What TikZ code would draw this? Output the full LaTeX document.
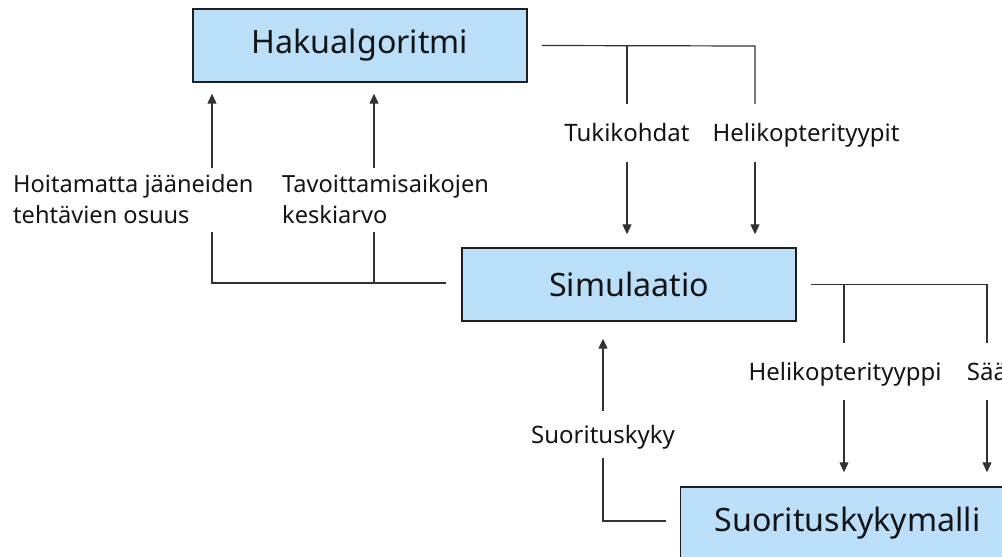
\documentclass[tikz,border=0pt]{standalone}
\usepackage{fontspec}
\setmainfont{Noto Sans}
\usetikzlibrary{arrows.meta,calc}
\definecolor{boxfill}{RGB}{187,222,249}
\definecolor{linec}{RGB}{50,50,50}
\definecolor{boxline}{RGB}{30,30,30}
\definecolor{txt}{RGB}{20,20,20}
\begin{document}
\begin{tikzpicture}[x=1pt,y=-1pt,
  blk/.style={draw=boxline, line width=1.4pt, fill=boxfill, minimum width=334pt,
    minimum height=73pt, inner sep=0pt, text=txt, font=\fontsize{32.2}{38}\selectfont},
  lbl/.style={inner sep=0pt, text=txt, text height=17pt, text depth=0pt,
    font=\fontsize{24}{31}\selectfont},
  mlbl/.style={inner sep=0pt, text=txt, align=left, anchor=base west,
    font=\fontsize{23.6}{31}\selectfont},
  conn/.style={draw=linec, line width=1.2pt},
  arr/.style={conn, -{Triangle[length=10pt,width=9pt]}}]
\useasboundingbox (0,0) rectangle (1002,557);

% blocks
\node[blk] (hak) at (360,45.5) {Hakualgoritmi};
\node[blk] (sim) at (629,284.5) {Simulaatio};
\node[blk] (suo) at (847.5,523.5) {Suorituskykymalli};

% labels
\node[lbl, minimum height=58pt] (tk) at (627,133) {Tukikohdat};
\node[lbl, minimum height=58pt] (ht) at (806,133) {Helikopterityypit};
\node[lbl, minimum height=57pt] (hp) at (845,371.5) {Helikopterityyppi};
\node[lbl, minimum height=57pt] (saa) at (987,371.5) {Sää};
\node[lbl, minimum height=47pt] (sk) at (603,434.5) {Suorituskyky};
\node[mlbl] (ho) at (13,223) {Hoitamatta jääneiden\\tehtävien osuus};
\node[mlbl] (ta) at (282,223) {Tavoittamisaikojen\\keskiarvo};

% Hakualgoritmi -> Simulaatio
\coordinate (t0) at ($(hak.east)+(14,0)$);
\coordinate (tj1) at (tk.north |- t0);
\coordinate (tj2) at (755,46);
\draw[conn] (t0) -- (tj2) -- (tj2 |- ht.north);
\draw[conn] (tj1) -- (tk.north);
\draw[arr] (tk.south) -- ($(tk.south |- sim.north)+(0,-13)$);
\draw[arr] (tj2 |- ht.south) -- ($(tj2 |- sim.north)+(0,-13)$);

% Simulaatio -> Suorituskykymalli
\coordinate (r0) at ($(sim.east)+(14,0)$);
\coordinate (rj1) at (844,284);
\coordinate (rj2) at (saa.north |- r0);
\draw[conn] (r0) -- (rj2) -- (saa.north);
\draw[conn] (rj1) -- (rj1 |- hp.north);
\draw[arr] (rj1 |- hp.south) -- ($(rj1 |- suo.north)+(0,-14)$);
\draw[arr] (saa.south) -- ($(saa.south |- suo.north)+(0,-14)$);

% Suorituskykymalli -> Simulaatio
\coordinate (b0) at ($(suo.west)+(-13.5,-2.5)$);
\coordinate (bj) at (sk.south |- b0);
\draw[conn] (b0) -- (bj) -- (sk.south);
\draw[arr] (sk.north) -- ($(sk.north |- sim.south)+(0,17)$);

% Simulaatio -> Hakualgoritmi
\coordinate (l0) at ($(sim.west)+(-15,-1.5)$);
\coordinate (lj1) at (212,283);
\coordinate (lj2) at (374,283);
\coordinate (h1b) at (212,232);
\coordinate (h1t) at (212,168);
\coordinate (h2b) at (374,232);
\coordinate (h2t) at (374,168);
\draw[conn] (l0) -- (lj1) -- (h1b);
\draw[conn] (lj2) -- (h2b);
\draw[arr] (h1t) -- ($(h1t |- hak.south)+(0,11)$);
\draw[arr] (h2t) -- ($(h2t |- hak.south)+(0,11)$);
\end{tikzpicture}
\end{document}
